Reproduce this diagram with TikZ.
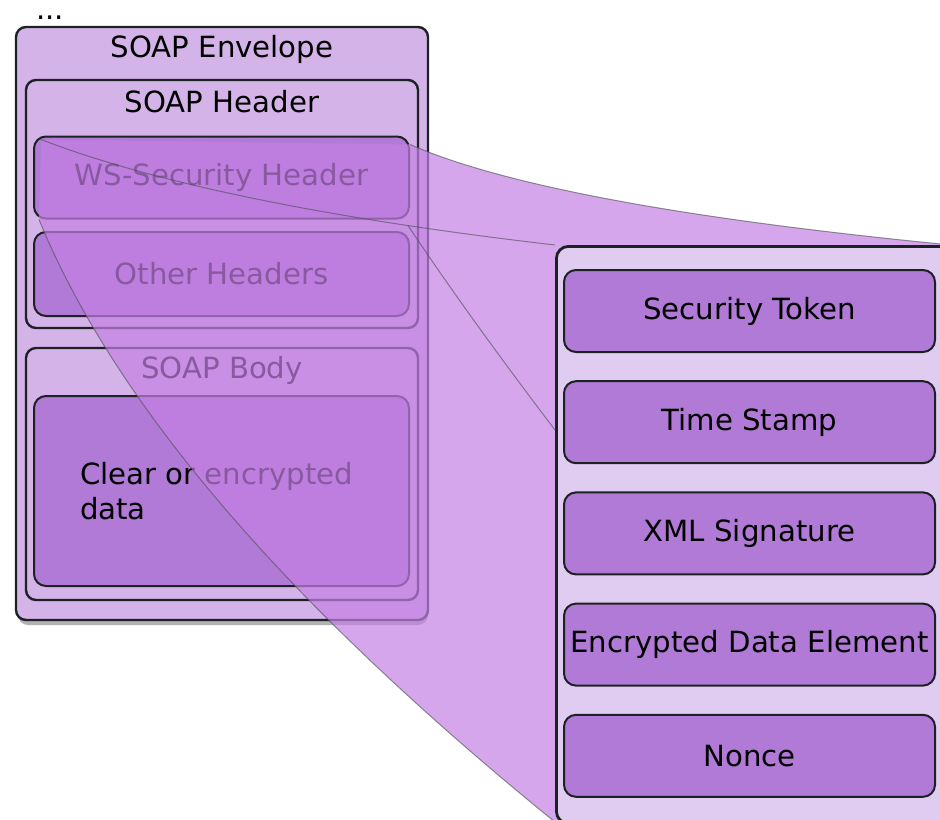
\documentclass[tikz,border=0pt]{standalone}
\usepackage{fontspec}
\setmainfont{DejaVu Sans}
\usetikzlibrary{positioning}

\definecolor{envfill}{RGB}{212,180,232}
\definecolor{boxfill}{RGB}{176,122,214}
\definecolor{panelfill}{RGB}{224,204,240}
\definecolor{funnel}{RGB}{196,128,228}
\definecolor{edge}{RGB}{28,34,36}

\begin{document}
\begin{tikzpicture}[x=0.5pt, y=-0.5pt, font=\fontsize{14.6pt}{17.5pt}\selectfont,
        outerbox/.style={rectangle, rounded corners=5pt, draw=edge, line width=1.2pt, fill=envfill, inner sep=0pt},
        fieldbox/.style={rectangle, rounded corners=6pt, draw=edge, line width=1pt, fill=boxfill, inner sep=0pt, minimum width=187.5pt, minimum height=41pt},
        panelbox/.style={rectangle, rounded corners=6pt, draw=edge, line width=1.4pt, fill=panelfill, inner sep=0pt, minimum width=198pt, minimum height=288.5pt},
        itembox/.style={fieldbox, minimum width=185.5pt},
        link/.style={draw=edge!80, line width=0.5pt, opacity=0.6}]

        \clip (0,0) rectangle (940,819);

        \node[anchor=base west, inner sep=0pt] (dots) at (36,19) {...};

        % soap message
        \fill[black!30, rounded corners=5pt] (18,31) rectangle (428,625);
        \node[outerbox, minimum width=206pt, minimum height=296.5pt] (env) at (222,323.5) {};
        \node (envtitle) at (222,49) {SOAP Envelope};
        \node[outerbox, minimum width=196pt, minimum height=124pt] (hdr) at (222,204) {};
        \node (hdrtitle) at (222,102) {SOAP Header};
        \node[fieldbox] (wss) at (221.5,177.5) {WS-Security Header};
        \node[fieldbox, minimum height=42pt] (oth) at (221.5,274) {Other Headers};
        \node[outerbox, minimum width=196pt, minimum height=126pt] (body) at (222,474) {};
        \node (bodytitle) at (222,370) {SOAP Body};
        \node[fieldbox, minimum height=95pt] (data) at (221.5,491) {};
        \node[anchor=west, align=left] (datatext) at (73,491) {Clear or encrypted\\data};

        % zoom funnel
        \coordinate (ftl) at ([shift={(4pt,-2pt)}]wss.north west);
        \coordinate (ftr) at ([shift={(0pt,-4.5pt)}]wss.north east);
        \coordinate (fbl) at ([shift={(3pt,0pt)}]wss.south west);
        \coordinate (fbr) at ([shift={(-1pt,-3pt)}]wss.south east);
        \coordinate (ptl) at (555,245);
        \coordinate (ptr) at (951,245);
        \coordinate (pbl) at (555,822);
        \coordinate (pbr) at (951,822);
        \coordinate (fcut) at (555,430);

        \fill[funnel, opacity=0.7] (ftl) -- (ftr) .. controls (505,186) and (685,219) .. (ptr) -- (pbr) -- (pbl) .. controls (286,604) and (114,403) .. (fbl) -- cycle;
        \draw[link] (ftl) .. controls (151,182) and (322,218) .. (ptl);
        \draw[link] (fbl) .. controls (114,403) and (286,604) .. (pbl);
        \draw[link] (ftr) .. controls (505,186) and (685,219) .. (ptr);
        \draw[link] (fbr) .. controls (449,287) and (498,355) .. (fcut);

        % security header contents
        \node[panelbox, anchor=north west] (panel) at (ptl) {};
        \node[itembox] (tok) at (749.5,311) {Security Token};
        \node[itembox, below=13.6pt of tok] (ts) {Time Stamp};
        \node[itembox, below=13.6pt of ts] (sig) {XML Signature};
        \node[itembox, below=13.6pt of sig] (enc) {Encrypted Data Element};
        \node[itembox, below=13.6pt of enc] (nonce) {Nonce};

\end{tikzpicture}
\end{document}
